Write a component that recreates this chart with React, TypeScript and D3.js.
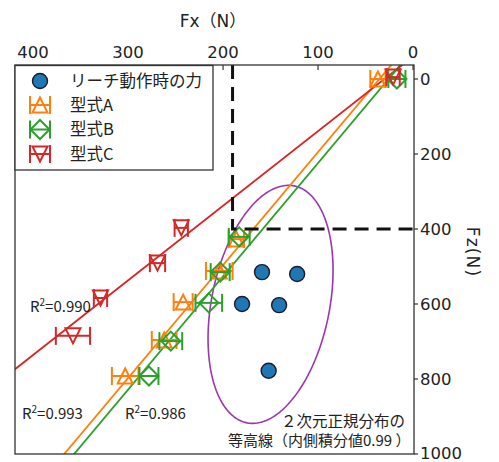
import React from "react";
import * as d3 from "d3";

const W = 499;
const H = 462;

// axis ticks (N)
const fxTicks = [400, 300, 200, 100, 0];
const fzTicks = [0, 200, 400, 600, 800, 1000];

// forces measured during the reaching motion
const reachFx = [159, 122, 180, 141, 152];
const reachFz = [515, 520, 600, 603, 778];

// type A
const aFx = [37, 186, 204, 242, 262, 303];
const aFz = [0, 427, 512, 595, 696, 792];
const aErr = [8, 8, 14, 10, 13, 14];

// type B
const bFx = [17, 183, 203, 215, 255, 278];
const bFz = [0, 421, 515, 597, 699, 792];
const bErr = [9, 11, 10, 14, 12, 10];

// type C
const cFx = [21, 244, 269, 329, 358];
const cFz = [-5, 397, 491, 584, 685];
const cErr = [7, 7, 8, 7, 18];

// linear fits Fz = slope * Fx + intercept
const fitSlope = [3.014, 3.022, 1.99];
const fitIntercept = [-106.6, -78.1, -60];
const fitR2 = ["0.993", "0.986", "0.990"];

// bivariate normal contour of the reach forces
const contourMean = [150, 601];
const contourCov = [470, 650, 10934]; // varFx, cov, varFz
const contourChi2 = 9.21; // 99 % level, 2 dof

// reference force limits
const limitFx = [190];
const limitFz = [400];

const ORANGE = "#ff7f0e";
const GREEN = "#2ca02c";
const RED = "#d62728";
const BLUE = "#1f77b4";
const PURPLE = "#9a36b0";
const NUM_FONT = "'DejaVu Sans', 'Noto Sans CJK JP', sans-serif";
const JP_FONT = "'Noto Sans CJK JP', sans-serif";

type Shape = "up" | "down" | "diamond";

function markerPath(shape: Shape): string {
  const s = 7.5;
  if (shape === "up") return `M0,${-s}L${s},${s}L${-s},${s}Z`;
  if (shape === "down") return `M0,${s}L${s},${-s}L${-s},${-s}Z`;
  const d = 9.5;
  return `M0,${-d}L${d},0L0,${d}L${-d},0Z`;
}

function ErrMark({ cx, cy, x0, x1, color, shape }: { cx: number; cy: number; x0: number; x1: number; color: string; shape: Shape }) {
  const cap = 9;
  return (
    <g stroke={color} strokeWidth={2} fill="none">
      <line x1={x0} x2={x1} y1={cy} y2={cy} />
      <line x1={x0} x2={x0} y1={cy - cap} y2={cy + cap} />
      <line x1={x1} x2={x1} y1={cy - cap} y2={cy + cap} />
      <path d={markerPath(shape)} transform={`translate(${cx},${cy})`} />
    </g>
  );
}

export default function App() {
  const left = 15, right = 414, top = 65, bottom = 454;
  const x = d3.scaleLinear().domain([419, -1]).range([left, right]);
  const y = d3.scaleLinear().domain([-37.3, 1000]).range([top, bottom]);

  const series = [
    { fx: aFx, fz: aFz, err: aErr, color: ORANGE, shape: "up" as Shape, label: "型式A" },
    { fx: bFx, fz: bFz, err: bErr, color: GREEN, shape: "diamond" as Shape, label: "型式B" },
    { fx: cFx, fz: cFz, err: cErr, color: RED, shape: "down" as Shape, label: "型式C" },
  ];

  const line = d3.line<[number, number]>().x((d) => x(d[0])).y((d) => y(d[1]));

  // contour ellipse via Cholesky factor of the covariance
  const [vxx, vxz, vzz] = contourCov;
  const k = Math.sqrt(contourChi2);
  const l11 = Math.sqrt(vxx);
  const l21 = vxz / l11;
  const l22 = Math.sqrt(vzz - l21 * l21);
  const ellipsePts: [number, number][] = d3.range(0, 360, 2).map((deg) => {
    const t = (deg * Math.PI) / 180;
    const u = Math.cos(t), v = Math.sin(t);
    return [contourMean[0] + k * l11 * u, contourMean[1] + k * (l21 * u + l22 * v)];
  });
  const ellipsePath = d3.line<[number, number]>().x((d) => x(d[0])).y((d) => y(d[1])).curve(d3.curveLinearClosed)(ellipsePts);

  const fxDom = x.domain();
  const legendRows = [81, 105, 129.5, 154];

  return (
    <div style={{ position: "absolute", left: 0, top: 0 }}>
      <svg width={W} height={H} viewBox={`0 0 ${W} ${H}`} style={{ display: "block", background: "#fff" }}>
        <defs>
          <clipPath id="plotArea">
            <rect x={left} y={top} width={right - left} height={bottom - top} />
          </clipPath>
        </defs>

        <g clipPath="url(#plotArea)">
          <path d={ellipsePath ?? ""} fill="none" stroke={PURPLE} strokeWidth={1.6} />
          {series.map((s, i) => (
            <path
              key={"fit" + i}
              d={line(fxDom.map((fx) => [fx, fitSlope[i] * fx + fitIntercept[i]] as [number, number])) ?? ""}
              stroke={s.color}
              strokeWidth={1.8}
              fill="none"
            />
          ))}
          {series.map((s, i) => (
            <g key={"pts" + i}>
              {s.fx.map((fx, j) => (
                <ErrMark
                  key={j}
                  cx={x(fx)}
                  cy={y(s.fz[j])}
                  x0={x(fx - s.err[j])}
                  x1={x(fx + s.err[j])}
                  color={s.color}
                  shape={s.shape}
                />
              ))}
            </g>
          ))}
          <path
            d={`M${x(limitFx[0])},${top}V${y(limitFz[0])}H${right}`}
            fill="none"
            stroke="#111"
            strokeWidth={3}
            strokeDasharray="14,8"
          />
          {reachFx.map((fx, i) => (
            <circle key={"r" + i} cx={x(fx)} cy={y(reachFz[i])} r={7.5} fill={BLUE} stroke="#1a1a2e" strokeWidth={1.4} />
          ))}
        </g>

        {/* frame */}
        <rect x={left} y={top} width={right - left} height={bottom - top} fill="none" stroke="#333" strokeWidth={1.3} />

        {/* top axis */}
        {fxTicks.map((t) => (
          <g key={"tx" + t}>
            <line x1={x(t)} x2={x(t)} y1={top} y2={top + 5} stroke="#333" strokeWidth={1.2} />
            <text x={x(t)} y={58} textAnchor="middle" fontFamily={NUM_FONT} fontSize={16.5} fill="#222">
              {t}
            </text>
          </g>
        ))}
        <text x={213} y={27} textAnchor="middle" fontFamily={NUM_FONT} fontSize={17} fill="#222">
          Fx（N）
        </text>

        {/* right axis */}
        {fzTicks.map((t) => (
          <g key={"tz" + t}>
            <line x1={right} x2={right + 4} y1={y(t)} y2={y(t)} stroke="#333" strokeWidth={1.2} />
            <text
              x={420}
              y={Math.min(y(t) + 6, 459)}
              textAnchor="start"
              fontFamily={NUM_FONT}
              fontSize={16.5}
              fill="#222"
            >
              {t}
            </text>
          </g>
        ))}
        <text
          transform={`translate(467,252) rotate(90)`}
          textAnchor="middle"
          fontFamily={NUM_FONT}
          fontSize={17}
          letterSpacing={1.2}
          fill="#222"
        >
          Fz(N)
        </text>

        {/* fit quality labels */}
        {[
          { i: 2, px: 30, py: 311.5 },
          { i: 0, px: 22, py: 419 },
          { i: 1, px: 125, py: 419 },
        ].map(({ i, px, py }) => (
          <text key={"r2" + i} x={px} y={py} fontFamily={JP_FONT} fontSize={15} fill="#222">
            R<tspan fontSize={10} dy={-6}>2</tspan>
            <tspan dy={6}>={fitR2[i]}</tspan>
          </text>
        ))}

        {/* contour note */}
        <text x={281} y={426.5} fontFamily={JP_FONT} fontSize={15.5} fill="#222">
          ２次元正規分布の
        </text>
        <text x={228} y={446} fontFamily={JP_FONT} fontSize={15} fill="#222">
          等高線（内側積分値0.99 ）
        </text>

        {/* legend */}
        <rect x={left} y={65.5} width={198} height={104.5} fill="#fff" stroke="#333" strokeWidth={1.3} />
        <circle cx={40} cy={legendRows[0]} r={7.5} fill={BLUE} stroke="#1a1a2e" strokeWidth={1.4} />
        <text x={70} y={legendRows[0]} dy="0.36em" fontFamily={JP_FONT} fontSize={16.5} fill="#222">
          リーチ動作時の力
        </text>
        {series.map((s, i) => (
          <g key={"lg" + i}>
            <ErrMark cx={40} cy={legendRows[i + 1]} x0={30} x1={50} color={s.color} shape={s.shape} />
            <text x={70} y={legendRows[i + 1]} dy="0.36em" fontFamily={JP_FONT} fontSize={16.5} fill="#222">
              {s.label}
            </text>
          </g>
        ))}
      </svg>
    </div>
  );
}
